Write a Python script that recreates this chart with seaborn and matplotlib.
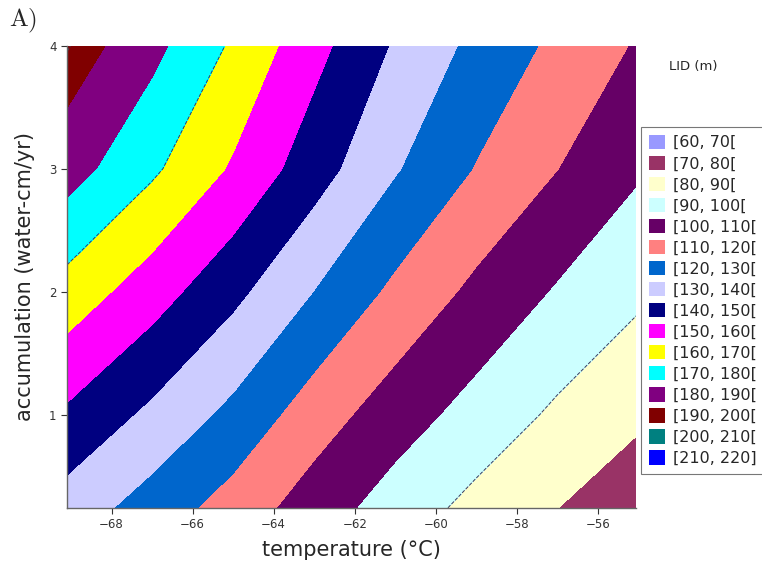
import numpy as np
import matplotlib
matplotlib.use("Agg")
import matplotlib.pyplot as plt
from matplotlib.patches import Patch
import seaborn as sns

# data (LID in m on a temperature x accumulation grid)
temperature = [-69.1, -67, -65, -63, -61, -59, -57, -55.05]
accumulation = [0.24, 1, 2, 3, 4]

lid_acc_024 = [135.5, 125.5, 115.7, 105.0, 95.4, 87.1, 80.1, 74.0]
lid_acc_1 = [148.3, 137.7, 127.3, 114.8, 104.7, 96.2, 88.3, 81.8]
lid_acc_2 = [166.0, 154.5, 142.5, 129.8, 117.7, 107.6, 99.0, 92.0]
lid_acc_3 = [184.3, 171.7, 158.7, 144.3, 130.8, 119.4, 110.1, 101.3]
lid_acc_4 = [195.8, 182.8, 168.5, 153.2, 138.8, 127.3, 117.7, 109.1]

lid_levels = [60, 70, 80, 90, 100, 110, 120, 130, 140, 150, 160, 170, 180, 190, 200, 210, 220]
lid_labels = ["[60, 70[", "[70, 80[", "[80, 90[", "[90, 100[", "[100, 110[", "[110, 120[",
              "[120, 130[", "[130, 140[", "[140, 150[", "[150, 160[", "[160, 170[",
              "[170, 180[", "[180, 190[", "[190, 200[", "[200, 210[", "[210, 220]"]
lid_colors = ["#9999ff", "#993366", "#ffffcc", "#ccffff", "#660066", "#ff8080",
              "#0066cc", "#ccccff", "#000080", "#ff00ff", "#ffff00", "#00ffff",
              "#800080", "#800000", "#008080", "#0000ff"]
dashed_levels = [90, 170, 195.3]

sns.set_theme(style="ticks")
plt.rcParams["font.family"] = ["DejaVu Sans"]
plt.rcParams["mathtext.fontset"] = "cm"

lid = np.array([lid_acc_024, lid_acc_1, lid_acc_2, lid_acc_3, lid_acc_4])
T, A = np.meshgrid(temperature, accumulation)

fig = plt.figure(figsize=(7.62, 5.63), dpi=100)
ax = fig.add_axes([0.088, 0.098, 0.747, 0.820])

ax.contourf(T, A, lid, levels=lid_levels, colors=lid_colors)
ax.contour(T, A, lid, levels=dashed_levels, colors="#3c3c5a",
           linewidths=0.7, linestyles="--")

ax.set_xlim(temperature[0], temperature[-1])
ax.set_ylim(accumulation[0], accumulation[-1])
ax.set_xticks([-68, -66, -64, -62, -60, -58, -56])
ax.set_yticks([1, 2, 3, 4])
ax.tick_params(labelsize=8.5, colors="#333333", length=4, width=0.8)

sns.despine(ax=ax)
for side in ["left", "bottom"]:
    ax.spines[side].set_color("#666666")
    ax.spines[side].set_linewidth(1.0)

ax.set_xlabel("temperature (°C)", fontsize=15, labelpad=6)
ax.set_ylabel("accumulation (water-cm/yr)", fontsize=15, labelpad=10)

handles = [Patch(facecolor=c, edgecolor="none", label=l) for c, l in zip(lid_colors, lid_labels)]
leg = fig.legend(handles=handles, loc="upper left", bbox_to_anchor=(0.841, 0.775),
                 fontsize=11.5, frameon=True, fancybox=False, handlelength=1.0,
                 handleheight=1.0, handletextpad=0.5, labelspacing=0.34,
                 borderpad=0.5, borderaxespad=0.0)
leg.get_frame().set_edgecolor("#555555")
leg.get_frame().set_linewidth(0.8)

fig.text(0.91, 0.882, "LID (m)", fontsize=9.5, ha="center", va="center")
fig.text(0.012, 0.962, r"$\mathrm{A)}$", fontsize=18, ha="left", va="center")

fig.savefig("out.png", dpi=100)
